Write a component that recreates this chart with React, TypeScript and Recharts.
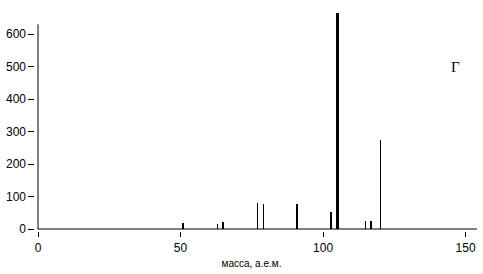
import React from 'react'
import {
  ComposedChart,
  Bar,
  XAxis,
  YAxis,
  ReferenceLine,
} from 'recharts'

// mass spectrum peaks (m/z and intensity)
const masses = [51, 63, 65, 77, 79, 91, 103, 105, 115, 117, 120]
const intensities = [19, 15, 22, 80, 77, 77, 52, 665, 25, 25, 274]

const xTicks = [0, 50, 100, 150]
const yTicks = [0, 100, 200, 300, 400, 500, 600]

const xLabel = 'масса, а.е.м.'
const panelLabel = 'Г'

// line thickness of each peak, in px (style only)
const peakWidth: Record<number, number> = {
  51: 2, 65: 2, 91: 2, 103: 2, 105: 3, 117: 2,
}

const chartData = masses.map((m, i) => ({ mass: m, value: intensities[i] }))

const font = '"Liberation Sans", Arial, sans-serif'

const XTick = (props: any) => {
  const { x, y, payload } = props
  return (
    <g>
      <line x1={x} x2={x} y1={y + 3} y2={y + 8} stroke="#000" shapeRendering="crispEdges" />
      <text x={x} y={y + 23} textAnchor="middle" fontSize={12} fontFamily={font} fill="#000">
        {payload.value}
      </text>
    </g>
  )
}

const YTick = (props: any) => {
  const { x, y, payload } = props
  return (
    <g>
      <line x1={x - 10} x2={x - 4} y1={y} y2={y} stroke="#000" shapeRendering="crispEdges" />
      <text x={x - 12} y={y + 4} textAnchor="end" fontSize={12} fontFamily={font} fill="#000">
        {payload.value}
      </text>
    </g>
  )
}

const Peak = (props: any) => {
  const { x, y, width, height, payload } = props
  const w = peakWidth[payload.mass] ?? 1
  const cx = Math.round(x + width / 2)
  return <rect x={cx - Math.floor(w / 2)} y={y} width={w} height={height} fill="#000" shapeRendering="crispEdges" />
}

export default function App() {
  return (
    <div style={{ position: 'fixed', left: 0, top: 0, width: 483, height: 274, background: '#fff' }}>
      <ComposedChart
        width={483}
        height={274}
        data={chartData}
        margin={{ top: 13, right: 6, left: 0, bottom: 15 }}
      >
        <XAxis
          dataKey="mass"
          type="number"
          domain={[0, 154]}
          ticks={xTicks}
          tick={<XTick />}
          tickLine={false}
          tickSize={0}
          tickMargin={0}
          height={30}
          stroke="#000"
          label={{ value: xLabel, position: 'bottom', offset: 1, dx: -6, fontSize: 10, fontFamily: font, fill: '#000' }}
        />
        <YAxis
          type="number"
          domain={[0, 665]}
          ticks={yTicks}
          tick={<YTick />}
          tickLine={false}
          tickSize={0}
          tickMargin={0}
          axisLine={false}
          width={38}
        />
        <ReferenceLine
          segment={[{ x: 0, y: 0 }, { x: 0, y: 630 }]}
          stroke="#000"
          ifOverflow="visible"
        />
        <Bar dataKey="value" barSize={3} shape={<Peak />} isAnimationActive={false} />
      </ComposedChart>
      <div
        style={{
          position: 'absolute',
          left: 451,
          top: 59,
          fontFamily: '"Liberation Serif", "Times New Roman", serif',
          fontSize: 15,
          color: '#000',
        }}
      >
        {panelLabel}
      </div>
    </div>
  )
}
